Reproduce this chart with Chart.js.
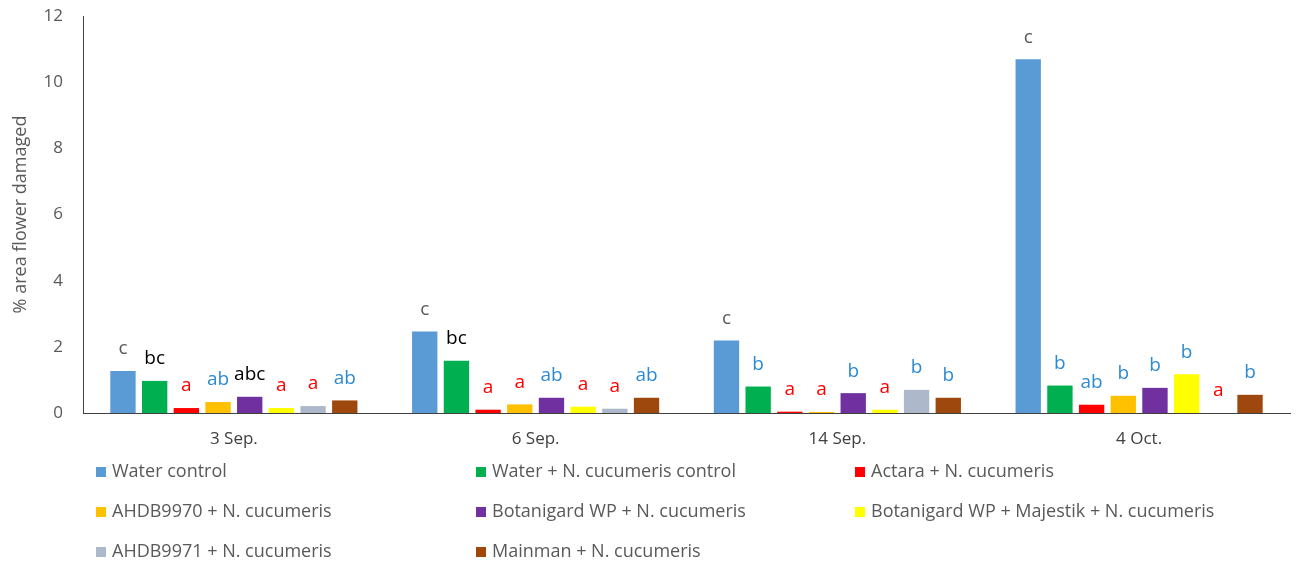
<!DOCTYPE html>
<html lang="en">

<head>
    <meta charset="UTF-8">
    <title>Flower damage by treatment</title>
    <script src="https://cdn.jsdelivr.net/npm/chart.js"></script>
    <style>
        body {
            margin: 0;
            background-color: #ffffff;
            font-family: 'Open Sans', sans-serif;
        }

        .chart-container {
            width: 1298px;
            height: 563px;
        }
    </style>
</head>

<body>
    <div class="chart-container">
        <canvas id="damageChart" width="1298" height="563"></canvas>
    </div>

    <script>
        // Assessment dates
        const dates = ['3 Sep.', '6 Sep.', '14 Sep.', '4 Oct.'];

        // % area of flower damaged, one array per treatment
        const waterControl = [1.27, 2.46, 2.19, 10.69];
        const waterNcControl = [0.97, 1.58, 0.80, 0.83];
        const actaraNc = [0.15, 0.10, 0.04, 0.25];
        const ahdb9970Nc = [0.33, 0.26, 0.03, 0.52];
        const botanigardNc = [0.49, 0.46, 0.60, 0.76];
        const botanigardMajestikNc = [0.15, 0.19, 0.10, 1.17];
        const ahdb9971Nc = [0.21, 0.13, 0.70, 0];
        const mainmanNc = [0.38, 0.46, 0.46, 0.55];

        // Significance letters per treatment and date
        const waterControlLetters = ['c', 'c', 'c', 'c'];
        const waterNcControlLetters = ['bc', 'bc', 'b', 'b'];
        const actaraNcLetters = ['a', 'a', 'a', 'ab'];
        const ahdb9970NcLetters = ['ab', 'a', 'a', 'b'];
        const botanigardNcLetters = ['abc', 'ab', 'b', 'b'];
        const botanigardMajestikNcLetters = ['a', 'a', 'a', 'b'];
        const ahdb9971NcLetters = ['a', 'a', 'b', 'a'];
        const mainmanNcLetters = ['ab', 'ab', 'b', 'b'];

        const yTicks = [0, 2, 4, 6, 8, 10, 12];

        const letterColours = {
            a: '#ff0000',
            ab: '#2e8bd3',
            b: '#2e8bd3',
            bc: '#000000',
            abc: '#000000',
            c: '#595959'
        };

        const series = [
            { label: 'Water control', data: waterControl, letters: waterControlLetters, color: '#5b9bd5' },
            { label: 'Water + N. cucumeris control', data: waterNcControl, letters: waterNcControlLetters, color: '#00b050' },
            { label: 'Actara + N. cucumeris', data: actaraNc, letters: actaraNcLetters, color: '#ff0000' },
            { label: 'AHDB9970 + N. cucumeris', data: ahdb9970Nc, letters: ahdb9970NcLetters, color: '#ffc000' },
            { label: 'Botanigard WP + N. cucumeris', data: botanigardNc, letters: botanigardNcLetters, color: '#7030a0' },
            { label: 'Botanigard WP + Majestik + N. cucumeris', data: botanigardMajestikNc, letters: botanigardMajestikNcLetters, color: '#ffff00' },
            { label: 'AHDB9971 + N. cucumeris', data: ahdb9971Nc, letters: ahdb9971NcLetters, color: '#adb9ca' },
            { label: 'Mainman + N. cucumeris', data: mainmanNc, letters: mainmanNcLetters, color: '#9e480e' }
        ];

        // letters drawn just above each bar
        const letterPlugin = {
            id: 'letters',
            afterDatasetsDraw(chart) {
                const ctx = chart.ctx;
                ctx.save();
                ctx.font = '19px "Open Sans", sans-serif';
                ctx.textAlign = 'center';
                ctx.textBaseline = 'middle';
                chart.data.datasets.forEach((ds, i) => {
                    const meta = chart.getDatasetMeta(i);
                    meta.data.forEach((bar, j) => {
                        const txt = ds.letters[j];
                        ctx.fillStyle = letterColours[txt];
                        ctx.fillText(txt, bar.x, bar.y - 22);
                    });
                });
                ctx.restore();
            }
        };

        // three column legend under the axis
        const gridLegend = {
            id: 'gridLegend',
            afterDraw(chart, args, opts) {
                const ctx = chart.ctx;
                ctx.save();
                ctx.font = '18px "Open Sans", sans-serif';
                ctx.textBaseline = 'middle';
                chart.data.datasets.forEach((ds, i) => {
                    const x = opts.cols[i % 3];
                    const y = opts.rows[Math.floor(i / 3)];
                    ctx.fillStyle = ds.backgroundColor;
                    ctx.fillRect(x, y - 5, 10, 10);
                    ctx.fillStyle = '#595959';
                    ctx.fillText(ds.label, x + 16, y);
                });
                ctx.restore();
            }
        };

        const ctx = document.getElementById('damageChart').getContext('2d');
        const chart = new Chart(ctx, {
            type: 'bar',
            data: {
                labels: dates,
                datasets: series.map(s => ({
                    label: s.label,
                    data: s.data,
                    letters: s.letters,
                    backgroundColor: s.color,
                    borderWidth: 0,
                    categoryPercentage: 0.84,
                    barPercentage: 0.8
                }))
            },
            plugins: [letterPlugin, gridLegend],
            options: {
                responsive: false,
                animation: false,
                layout: {
                    padding: { left: 2, right: 8, top: 16, bottom: 110 }
                },
                scales: {
                    x: {
                        grid: { display: false },
                        border: { display: true, color: '#404040', width: 1 },
                        ticks: {
                            color: '#404040',
                            font: { family: 'Open Sans', size: 17 },
                            padding: 8
                        },
                        afterFit(scale) {
                            scale.height = 40;
                        }
                    },
                    y: {
                        min: 0,
                        max: 12,
                        grid: { display: false },
                        border: { display: true, color: '#404040', width: 1 },
                        afterBuildTicks(scale) {
                            scale.ticks = yTicks.map(v => ({ value: v }));
                        },
                        ticks: {
                            color: '#595959',
                            font: { family: 'Open Sans', size: 17 },
                            padding: 12
                        },
                        title: {
                            display: true,
                            text: '% area flower damaged',
                            color: '#595959',
                            font: { family: 'Open Sans', size: 18 },
                            padding: { top: 8, bottom: 0 }
                        },
                        afterFit(scale) {
                            scale.width = 81;
                            scale.paddingTop = 0;
                            scale.paddingBottom = 0;
                        }
                    }
                },
                plugins: {
                    legend: { display: false },
                    tooltip: { enabled: false },
                    gridLegend: {
                        cols: [96, 476, 855],
                        rows: [472, 512, 552]
                    }
                }
            }
        });
    </script>
</body>

</html>
